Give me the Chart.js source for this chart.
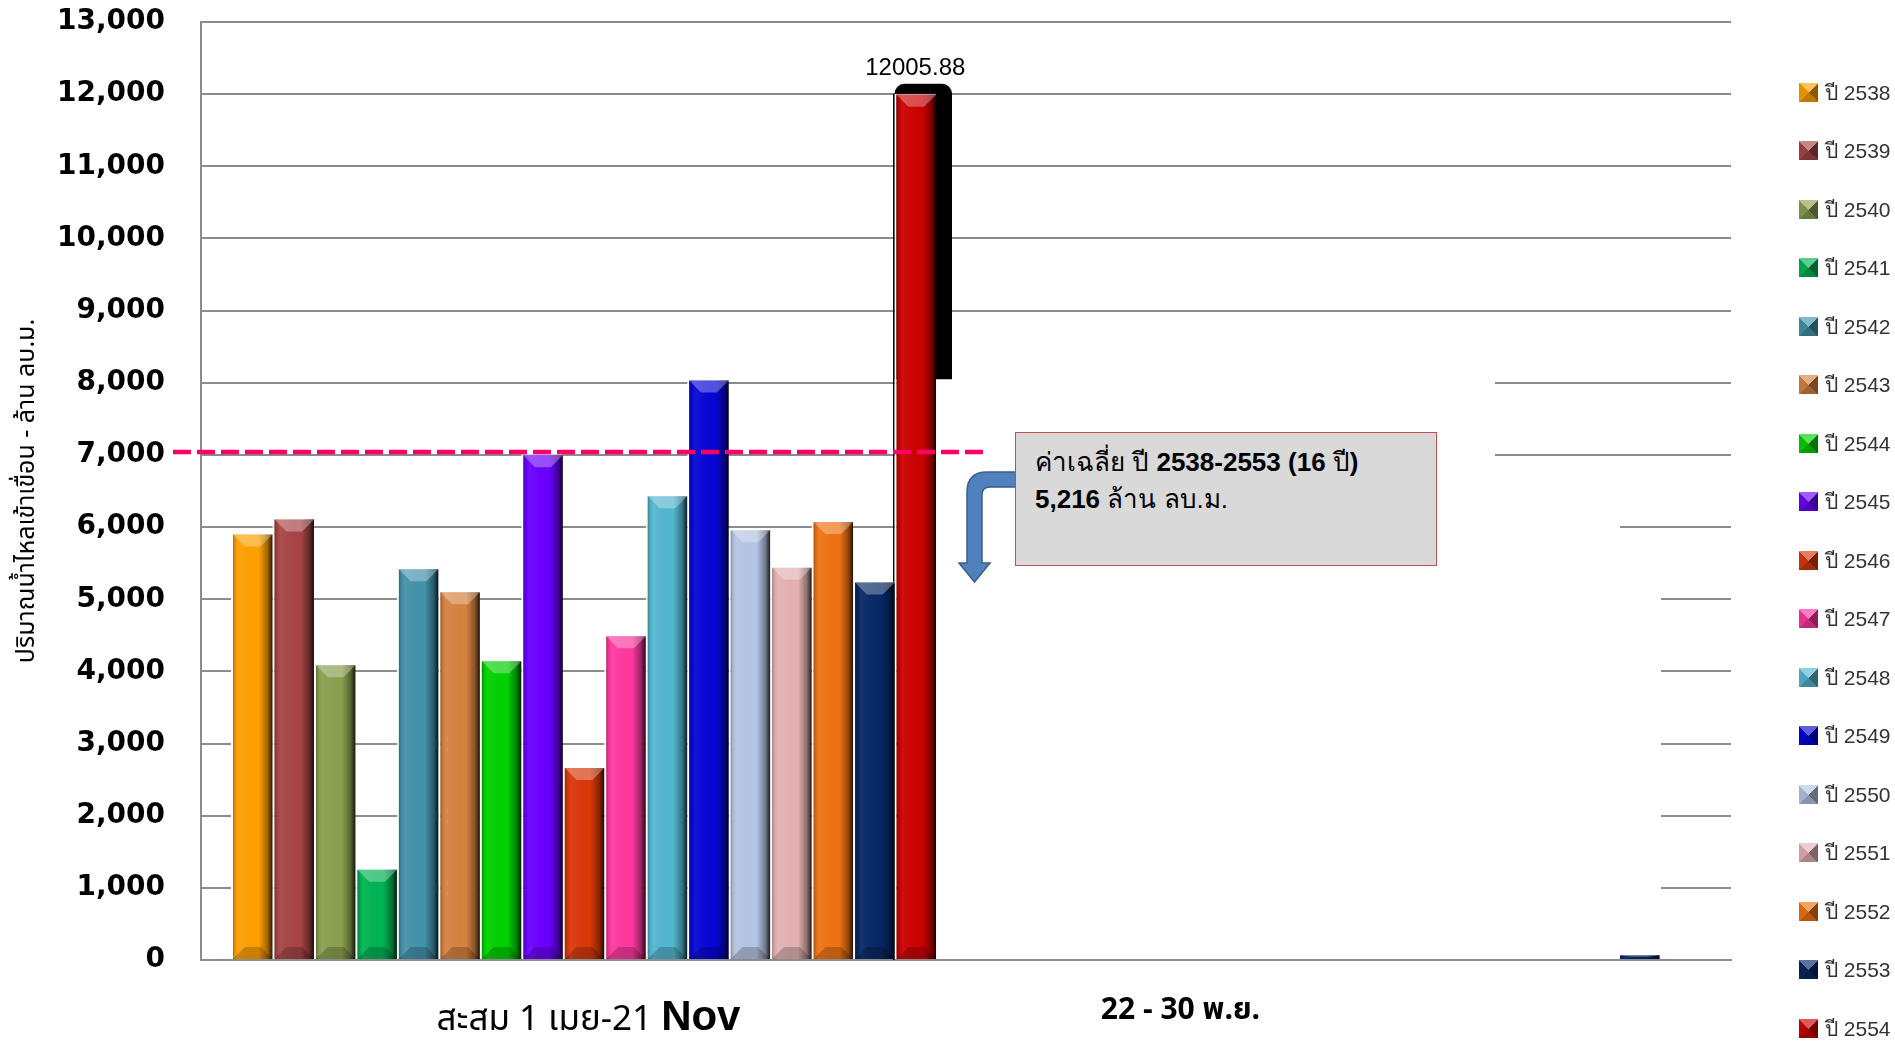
<!DOCTYPE html>
<html lang="th">
<head>
<meta charset="UTF-8">
<title>ปริมาณน้ำไหลเข้าเขื่อน</title>
<script src="https://cdn.jsdelivr.net/npm/chart.js"></script>
<style>
    * { box-sizing: border-box; margin: 0; padding: 0; }
    body { background: #fff; width: 1895px; height: 1041px; overflow: hidden; font-family: "Liberation Sans", Arial, sans-serif; }
    .wrap { position: relative; width: 1895px; height: 1041px; }

    /* legend on the right */
    .legend-item { position: absolute; left: 1799px; height: 20px; display: flex; align-items: center; font-size: 21px; color: #333; white-space: nowrap; }
    .legend-box { width: 19px; height: 19px; margin-right: 7px; }

    /* average note */
    .note { position: absolute; left: 1015px; top: 432px; width: 422px; height: 134px; background: #d9d9d9; border: 1.5px solid #c0504d; padding: 11px 0 0 19px; font-size: 26px; line-height: 37px; color: #000; }
    .note b { font-weight: bold; }
    .arrow { position: absolute; left: 955px; top: 465px; }
</style>
</head>
<body>
<div class="wrap">
    <canvas id="inflowChart"></canvas>
    <div id="legend"></div>
    <svg class="arrow" width="70" height="125" viewBox="0 0 70 125">
        <path d="M61 7 L32 7 Q12 7 12 27 L12 98 L4 98 L19.5 117 L35 98 L27 98 L27 30 Q27 22 35 22 L61 22 Z"
              fill="#4f81bd" stroke="#385d8a" stroke-width="1.5"/>
    </svg>
    <div class="note">ค่าเฉลี่ย ปี <b>2538-2553 (16</b> ปี<b>)</b><br><b>5,216</b> ล้าน ลบ.ม.</div>
</div>

<script>
    // data
    const CATEGORIES = ['สะสม 1 เมย-21 Nov', '22 - 30 พ.ย.'];
    const YEARS = ['ปี 2538', 'ปี 2539', 'ปี 2540', 'ปี 2541', 'ปี 2542', 'ปี 2543', 'ปี 2544', 'ปี 2545', 'ปี 2546',
                   'ปี 2547', 'ปี 2548', 'ปี 2549', 'ปี 2550', 'ปี 2551', 'ปี 2552', 'ปี 2553', 'ปี 2554'];
    const ACCUMULATED = [5910, 6120, 4100, 1265, 5430, 5110, 4155, 7010, 2675, 4500, 6440, 8045, 5970, 5450, 6085, 5245, 12005.88];
    const LATE_NOV = [null, null, null, null, null, null, null, null, null, null, null, null, null, null, null, 80, null];
    const COLORS = ['#ffa000', '#a84545', '#8aa04f', '#00b454', '#4393ab', '#d78240', '#00d200', '#6a00ff', '#d9380a',
                    '#ff389f', '#53b7d1', '#0606d6', '#b5c5e5', '#e5b2b2', '#f07312', '#072866', '#cc0000'];
    const Y_TICKS = [0, 1000, 2000, 3000, 4000, 5000, 6000, 7000, 8000, 9000, 10000, 11000, 12000, 13000];
    const AVERAGE_LINE = 7040;

    const CAT_PCT = 0.9216;
    const THAI = '"Noto Sans Thai", "Liberation Sans", sans-serif';

    // legend
    const legend = document.getElementById('legend');
    YEARS.forEach((name, i) => {
        const item = document.createElement('div');
        item.className = 'legend-item';
        item.style.top = (82 + i * 58.5) + 'px';
        item.innerHTML = '<span class="legend-box" style="background: conic-gradient(from -45deg, rgba(255,255,255,.35) 0 25%, rgba(0,0,0,.45) 0 50%, rgba(0,0,0,.25) 0 75%, rgba(0,0,0,.1) 0), ' + COLORS[i] + '"></span>' + name;
        legend.appendChild(item);
    });

    const datasets = YEARS.map((name, i) => ({
        label: name,
        data: [ACCUMULATED[i], LATE_NOV[i]],
        backgroundColor: COLORS[i],
        borderColor: '#ffffff',
        borderWidth: { left: 2, top: 1, right: 0, bottom: 0 },
        categoryPercentage: CAT_PCT,
        barPercentage: 1
    }));

    // white blocks over the grid, shadow behind 2554, bevel shading, average line and labels
    const decor = {
        id: 'decor',
        beforeDatasetsDraw(chart) {
            const { ctx, scales: { x, y } } = chart;
            const catW = x.getPixelForValue(1) - x.getPixelForValue(0);
            const barW = catW * CAT_PCT / YEARS.length;
            const c2 = x.getPixelForValue(1) - catW * CAT_PCT / 2;
            const red = chart.getDatasetMeta(YEARS.length - 1).data[0];
            const redL = red.x - red.width / 2, redR = red.x + red.width / 2;
            const base = y.getPixelForValue(0) - 1.5;
            ctx.save();
            ctx.fillStyle = '#ffffff';
            [[redR, c2 + barW * 12, 8500], [c2 + barW * 12, c2 + barW * 15, 6500], [c2 + barW * 15, c2 + barW * 16, 5500]]
                .forEach(([a, b, v]) => {
                    const t = Math.floor(y.getPixelForValue(v));
                    const l = Math.floor(a), r = Math.ceil(b) + 1;
                    ctx.fillRect(l, t, r - l, Math.floor(base) - t);
                });
            // black shadow
            const top = red.y - 10, bot = y.getPixelForValue(8050);
            ctx.fillStyle = '#000';
            ctx.beginPath();
            ctx.roundRect(redL, top, redR + 16 - redL, bot - top, [10, 10, 0, 0]);
            ctx.fill();
            ctx.fillRect(redL - 1.5, red.y, 1.5, y.getPixelForValue(0) - red.y);
            ctx.restore();
        },
        afterDatasetsDraw(chart) {
            const { ctx, chartArea, scales: { y } } = chart;
            ctx.save();
            chart.data.datasets.forEach((ds, di) => {
                chart.getDatasetMeta(di).data.forEach(bar => {
                    const { x: cx, y: top, base, width } = bar.getProps(['x', 'y', 'base', 'width'], true);
                    if (!isFinite(top) || base - top < 1) return;
                    const l = cx - width / 2 + 2, r = cx + width / 2, w = r - l;
                    const g = ctx.createLinearGradient(l, 0, r, 0);
                    g.addColorStop(0, 'rgba(0,0,0,0.28)');
                    g.addColorStop(0.07, 'rgba(0,0,0,0.05)');
                    g.addColorStop(0.15, 'rgba(255,255,255,0.06)');
                    g.addColorStop(0.65, 'rgba(0,0,0,0)');
                    g.addColorStop(0.88, 'rgba(0,0,0,0.38)');
                    g.addColorStop(1, 'rgba(0,0,0,0.85)');
                    ctx.fillStyle = g;
                    ctx.fillRect(l, top + 1, w, base - top - 1);
                    const h = Math.min(12, (base - top) / 3);
                    ctx.fillStyle = 'rgba(255,255,255,0.3)';
                    ctx.beginPath();
                    ctx.moveTo(l, top + 1); ctx.lineTo(r, top + 1);
                    ctx.lineTo(r - w * 0.3, top + 1 + h); ctx.lineTo(l + w * 0.3, top + 1 + h);
                    ctx.closePath(); ctx.fill();
                    ctx.fillStyle = 'rgba(0,0,0,0.2)';
                    ctx.beginPath();
                    ctx.moveTo(l, base); ctx.lineTo(r, base);
                    ctx.lineTo(r - w * 0.3, base - h); ctx.lineTo(l + w * 0.3, base - h);
                    ctx.closePath(); ctx.fill();
                });
            });
            // average line
            const ay = y.getPixelForValue(AVERAGE_LINE);
            ctx.strokeStyle = '#ff0066';
            ctx.lineWidth = 4.5;
            ctx.setLineDash([18, 6]);
            ctx.beginPath();
            ctx.moveTo(chartArea.left - 28, ay);
            ctx.lineTo(chartArea.left + 784, ay);
            ctx.stroke();
            ctx.setLineDash([]);
            // value label on 2554
            const red = chart.getDatasetMeta(YEARS.length - 1).data[0];
            ctx.fillStyle = '#000';
            ctx.font = '24px "Liberation Sans", sans-serif';
            ctx.textAlign = 'center';
            ctx.textBaseline = 'alphabetic';
            ctx.fillText(String(ACCUMULATED[YEARS.length - 1]), red.x, red.y - 19);
            ctx.restore();
        },
        afterDraw(chart) {
            const { ctx, scales: { x } } = chart;
            ctx.save();
            ctx.fillStyle = '#000';
            ctx.textBaseline = 'alphabetic';
            ctx.textAlign = 'left';
            // first category: mixed styles
            const partA = 'สะสม 1 เมย-21 ', partB = 'Nov';
            const fA = '35px ' + THAI, fB = 'bold 42px "Liberation Sans", sans-serif';
            ctx.font = fA; const wA = ctx.measureText(partA).width;
            ctx.font = fB; const wB = ctx.measureText(partB).width;
            const sx = x.getPixelForValue(0) + 5 - (wA + wB) / 2;
            ctx.font = fA; ctx.fillText(partA, sx, 1030);
            ctx.font = fB; ctx.fillText(partB, sx + wA, 1030);
            // second category
            ctx.font = 'bold 30px "Liberation Sans Narrow", ' + THAI;
            ctx.textAlign = 'center';
            ctx.fillText(CATEGORIES[1], x.getPixelForValue(1) - 168, 1019);
            ctx.restore();
        }
    };

    new Chart(document.getElementById('inflowChart'), {
        type: 'bar',
        data: { labels: CATEGORIES, datasets },
        options: {
            responsive: true,
            maintainAspectRatio: false,
            animation: false,
            layout: { padding: { top: 22, right: 164, bottom: 81, left: 0 } },
            plugins: { legend: { display: false }, tooltip: { enabled: false } },
            scales: {
                x: {
                    grid: { display: false, drawTicks: false },
                    ticks: { display: false },
                    border: { color: '#8c8c8c', width: 2 }
                },
                y: {
                    min: 0,
                    max: 13000,
                    afterFit(scale) {
                        scale.width = 201;
                        scale.paddingTop = 16;
                        scale.paddingBottom = 16;
                    },
                    afterBuildTicks(scale) { scale.ticks = Y_TICKS.map(v => ({ value: v })); },
                    ticks: {
                        padding: 36,
                        color: '#000',
                        font: { family: '"DejaVu Sans"', size: 28, weight: 'bold' },
                        callback: v => v.toLocaleString('en-US')
                    },
                    grid: { color: '#8c8c8c', lineWidth: 2, drawTicks: false },
                    border: { color: '#8c8c8c', width: 2 },
                    title: {
                        display: true,
                        text: 'ปริมาณน้ำไหลเข้าเขื่อน - ล้าน ลบ.ม.',
                        color: '#000',
                        font: { family: THAI, size: 25 },
                        padding: { top: 14, bottom: 0 }
                    }
                }
            }
        },
        plugins: [decor]
    });
</script>
</body>
</html>
